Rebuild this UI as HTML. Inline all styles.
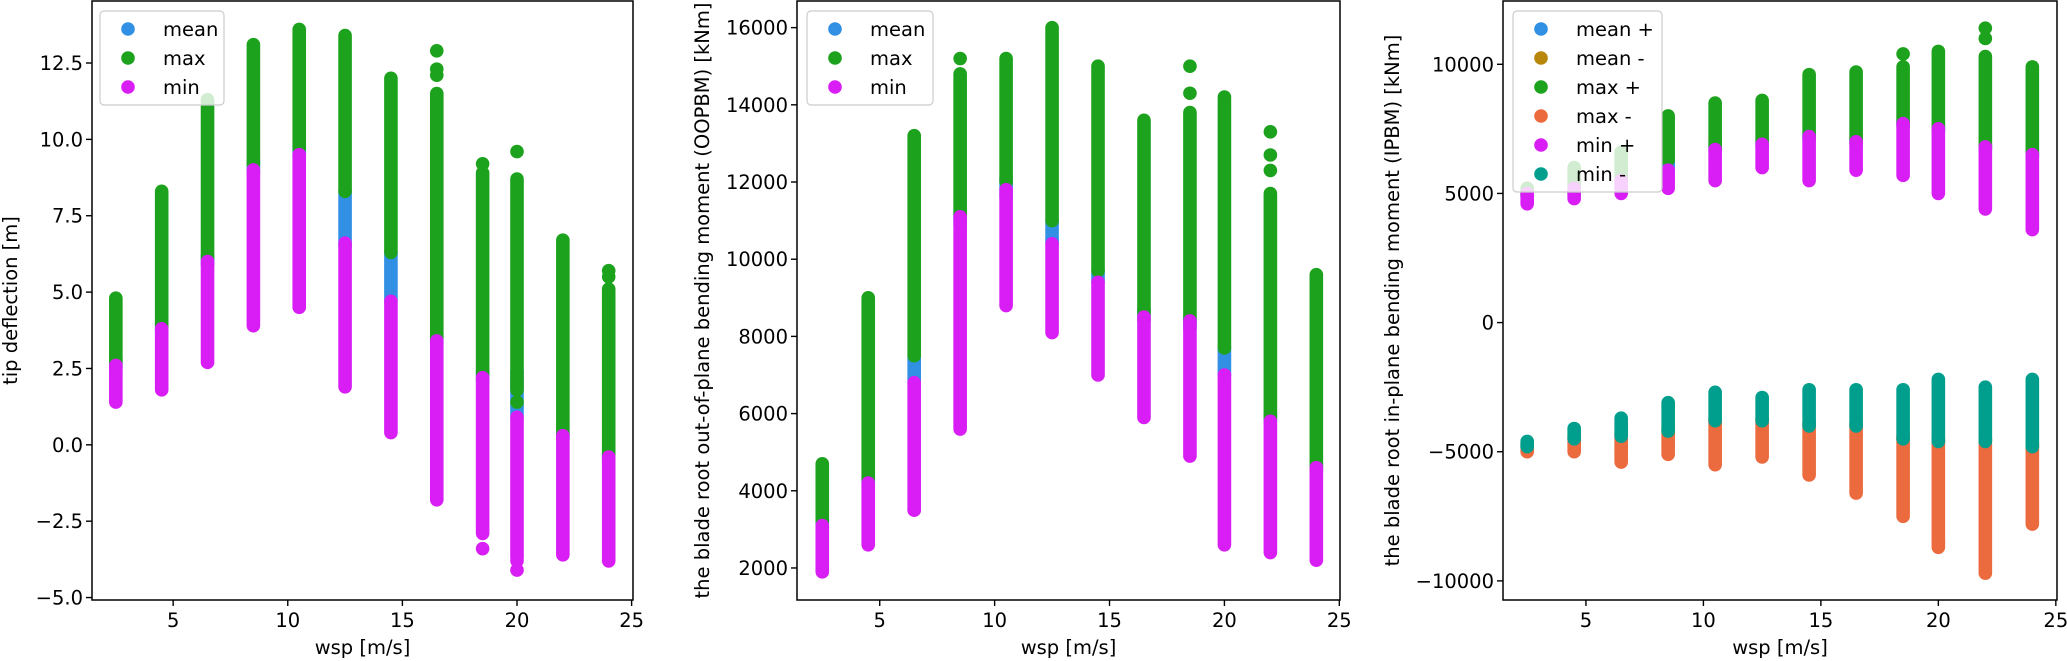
<!DOCTYPE html>
<html><head><meta charset="utf-8">
<style>
html,body{margin:0;padding:0;background:#fff;}
svg{display:block;font-family:"DejaVu Sans","Liberation Sans",sans-serif;}
</style></head>
<body>
<svg id="fig" width="2067" height="661" viewBox="0 0 2067 661" xmlns="http://www.w3.org/2000/svg"></svg>
<script>
// ---- shared data ----
const wsp = [2.5,4.5,6.5,8.5,10.5,12.5,14.5,16.5,18.5,20,22,24];
const xTicks = [5,10,15,20,25];

// Panel 1: tip deflection [m] — ranges [lo,hi] per wsp
const tipMean = [[2.5,2.8],[3.7,4.0],[5.9,6.2],[8.9,9.3],[9.4,9.8],[6.5,8.3],[4.7,6.3],[3.3,3.6],[2.1,2.4],[0.9,2.4],[0.2,0.4],[-0.5,-0.3]];
const tipMax = [[2.7,4.8],[3.9,8.3],[6.1,11.3],[9.2,13.1],[9.7,13.6],[8.3,13.4],[6.3,12.0],[3.5,11.5],[2.3,8.9],[1.8,8.7],[0.3,6.7],[-0.4,5.1]];
const tipMaxOut = [[16.5,12.1],[16.5,12.3],[16.5,12.9],[18.5,9.2],[20,1.4],[20,9.6],[24,5.5],[24,5.7]];
const tipMin = [[1.4,2.6],[1.8,3.8],[2.7,6.0],[3.9,9.0],[4.5,9.5],[1.9,6.6],[0.4,4.7],[-1.8,3.4],[-2.9,2.2],[-3.7,0.9],[-3.6,0.3],[-3.8,-0.4]];
const tipMinOut = [[18.5,-3.4],[20,-4.1],[20,-3.8]];
const tipYTicks = [-5,-2.5,0,2.5,5,7.5,10,12.5];
const tipYLabels = ["\u22125.0","\u22122.5","0.0","2.5","5.0","7.5","10.0","12.5"];

// Panel 2: OOPBM [kNm]
const oopMean = [[3000,3300],[4100,4400],[6800,7500],[10900,11200],[11600,12100],[10400,11000],[9400,9700],[8400,8700],[8200,8500],[7000,7700],[5800,6000],[4500,4700]];
const oopMax = [[3200,4700],[4300,9000],[7500,13200],[11100,14800],[12000,15200],[11000,16000],[9700,15000],[8600,13600],[8400,13800],[7700,14200],[5900,11700],[4600,9600]];
const oopMaxOut = [[8.5,15200],[18.5,14300],[18.5,15000],[22,12300],[22,12700],[22,13300]];
const oopMin = [[1900,3100],[2600,4200],[3500,6800],[5600,11100],[8800,11800],[8100,10400],[7000,9400],[5900,8500],[4900,8400],[2600,7000],[2400,5800],[2200,4600]];
const oopMinOut = [[6.5,3500]];
const oopYTicks = [2000,4000,6000,8000,10000,12000,14000,16000];
const oopYLabels = ["2000","4000","6000","8000","10000","12000","14000","16000"];

// Panel 3: IPBM [kNm]
const ipMeanP = [[4900,5000],[5000,5100],[5300,5500],[5900,6300],[6600,6900],[6800,7000],[7100,7300],[6900,7100],[7600,7800],[7400,7600],[6700,6900],[6400,6600]];
const ipMeanN = [[-4800,-4700],[-4500,-4400],[-4400,-4300],[-4200,-4100],[-3800,-3700],[-3800,-3700],[-4000,-3900],[-4000,-3900],[-4500,-4400],[-4600,-4500],[-4600,-4500],[-4800,-4700]];
const ipMaxP = [[4900,5200],[5000,6000],[5200,6600],[6300,8000],[6800,8500],[7000,8600],[7200,9600],[7000,9700],[7700,9900],[7500,10500],[6800,10300],[6500,9900]];
const ipMaxPOut = [[18.5,10400],[22,11000],[22,11400]];
const ipMaxN = [[-5000,-4800],[-5000,-4500],[-5400,-4400],[-5100,-4200],[-5500,-3800],[-5200,-3800],[-5900,-3900],[-6600,-4000],[-7500,-4500],[-8700,-4600],[-9700,-4700],[-7800,-4800]];
const ipMaxNOut = [[20,-8500]];
const ipMinP = [[4600,5000],[4800,5200],[5000,5500],[5200,5900],[5500,6700],[6000,6900],[5500,7200],[5900,7000],[5700,7700],[5000,7500],[4400,6800],[3600,6500]];
const ipMinN = [[-4800,-4600],[-4500,-4100],[-4400,-3700],[-4200,-3100],[-3800,-2700],[-3800,-2900],[-4000,-2600],[-4000,-2600],[-4500,-2600],[-4600,-2200],[-4600,-2500],[-4800,-2200]];
const ipYTicks = [-10000,-5000,0,5000,10000];
const ipYLabels = ["\u221210000","\u22125000","0","5000","10000"];

const C = {mean:"#3190e4", meanN:"#b8860b", max:"#1ca21c", maxN:"#eb6a3e", min:"#d81ef5", minN:"#009e8c"};
const NS = "http://www.w3.org/2000/svg";
const fig = document.getElementById('fig');
const R = 6.8;

function mk(tag, attrs, parent){
  const e = document.createElementNS(NS, tag);
  for (const k in attrs) e.setAttribute(k, attrs[k]);
  (parent||fig).appendChild(e);
  return e;
}

function panel(cfg){
  const g = mk('g', {});
  
  
  const sx = v => cfg.x0 + (v - cfg.xmin) / (cfg.xmax - cfg.xmin) * (cfg.x1 - cfg.x0);
  const sy = v => cfg.y1 - (v - cfg.ymin) / (cfg.ymax - cfg.ymin) * (cfg.y1 - cfg.y0);
  const marks = mk('g', {}, g);
  
  
  cfg.series.forEach(s => {
    const sg = mk('g', {}, marks);
    
    
    s.ranges.forEach((r, i) => {
      const x = sx(wsp[i]);
      const ln = mk('line', {x1:x, x2:x, y1:sy(r[0]), y2:sy(r[1]), stroke:s.color, 'stroke-width':2*R, 'stroke-linecap':'round'}, sg);
      
      
    });
    (s.out||[]).forEach(p => {
      const c = mk('circle', {cx:sx(p[0]), cy:sy(p[1]), r:R, fill:s.color}, sg);
      
      
    });
  });
  const fr = mk('rect', {x:cfg.x0, y:cfg.y0, width:cfg.x1-cfg.x0, height:cfg.y1-cfg.y0, fill:'none', stroke:'#000', 'stroke-width':1.5}, g);
  
  
  xTicks.forEach(t => {
    const x = sx(t);
    mk('line', {x1:x, x2:x, y1:cfg.y1, y2:cfg.y1+6, stroke:'#000', 'stroke-width':1.4}, g);
    const tx = mk('text', {x:x, y:cfg.y1+27, 'font-size':19.5, 'text-anchor':'middle', fill:'#000'}, g);
    tx.textContent = t;
    
    
  });
  cfg.yticks.forEach((t, i) => {
    const y = sy(t);
    mk('line', {x1:cfg.x0-6, x2:cfg.x0, y1:y, y2:y, stroke:'#000', 'stroke-width':1.4}, g);
    const tx = mk('text', {x:cfg.x0-9, y:y+7, 'font-size':19.5, 'text-anchor':'end', fill:'#000'}, g);
    tx.textContent = cfg.ylabels[i];
    
    
  });
  const xl = mk('text', {x:(cfg.x0+cfg.x1)/2, y:654, 'font-size':19.5, 'text-anchor':'middle', fill:'#000'}, g);
  xl.textContent = 'wsp [m/s]';
  
  
  const yl = mk('text', {x:0, y:0, 'font-size':19.5, 'text-anchor':'middle', fill:'#000', transform:`translate(${cfg.ylx},${(cfg.y0+cfg.y1)/2}) rotate(-90)`}, g);
  yl.textContent = cfg.ytitle;
  
  
  const lg = mk('g', {}, g);
  
  
  const lh = 29 * cfg.series.length + 7;
  mk('rect', {x:cfg.lx, y:11, width:cfg.lw, height:lh, rx:4, fill:'#fff', 'fill-opacity':0.8, stroke:'#ccc', 'stroke-width':1.2}, lg);
  cfg.series.forEach((s, i) => {
    const y = 29 + i*29;
    const e = mk('g', {}, lg);
    
    
    mk('circle', {cx:cfg.lx+28, cy:y, r:R, fill:s.color}, e);
    const t = mk('text', {x:cfg.lx+63, y:y+7, 'font-size':19.5, fill:'#000'}, e);
    t.textContent = s.label;
  });
}

panel({name:'tip-deflection-panel', x0:92, x1:633, y0:1, y1:600, xmin:1.46, xmax:25.06, ymin:-5.08, ymax:14.53,
  yticks:tipYTicks, ylabels:tipYLabels, ytitle:'tip deflection [m]', ylx:17, lx:100, lw:124,
  series:[{key:'mean',label:'mean',color:C.mean,ranges:tipMean},
          {key:'max',label:'max',color:C.max,ranges:tipMax,out:tipMaxOut},
          {key:'min',label:'min',color:C.min,ranges:tipMin,out:tipMinOut}]});

panel({name:'oopbm-panel', x0:797, x1:1340, y0:1, y1:600, xmin:1.4, xmax:25.03, ymin:1170, ymax:16690,
  yticks:oopYTicks, ylabels:oopYLabels, ytitle:'the blade root out-of-plane bending moment (OOPBM) [kNm]', ylx:709, lx:807, lw:126,
  series:[{key:'mean',label:'mean',color:C.mean,ranges:oopMean},
          {key:'max',label:'max',color:C.max,ranges:oopMax,out:oopMaxOut},
          {key:'min',label:'min',color:C.min,ranges:oopMin,out:oopMinOut}]});

panel({name:'ipbm-panel', x0:1503, x1:2057, y0:1, y1:600, xmin:1.47, xmax:25.05, ymin:-10740, ymax:12450,
  yticks:ipYTicks, ylabels:ipYLabels, ytitle:'the blade root in-plane bending moment (IPBM) [kNm]', ylx:1399, lx:1513, lw:149,
  series:[{key:'mean-plus',label:'mean +',color:C.mean,ranges:ipMeanP},
          {key:'mean-minus',label:'mean -',color:C.meanN,ranges:ipMeanN},
          {key:'max-plus',label:'max +',color:C.max,ranges:ipMaxP,out:ipMaxPOut},
          {key:'max-minus',label:'max -',color:C.maxN,ranges:ipMaxN,out:ipMaxNOut},
          {key:'min-plus',label:'min +',color:C.min,ranges:ipMinP},
          {key:'min-minus',label:'min -',color:C.minN,ranges:ipMinN}]});
</script>
</body></html>
